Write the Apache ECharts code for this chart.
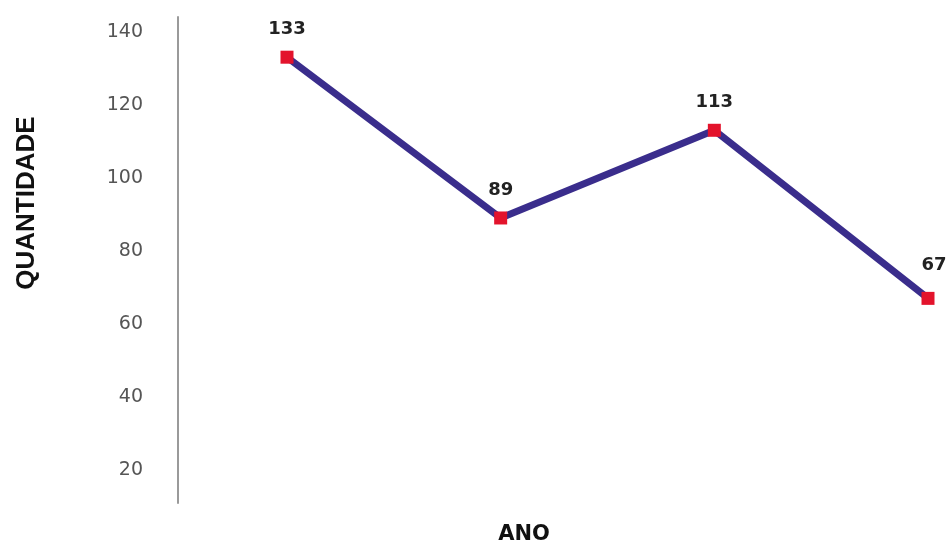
<!DOCTYPE html>
<html>
<head>
<meta charset="utf-8">
<script src="https://cdn.jsdelivr.net/npm/echarts@6/dist/echarts.min.js"></script>
<style>
    html, body { margin: 0; padding: 0; background: #fff; }
    #chart { width: 947px; height: 546px; }
</style>
</head>
<body>
<div id="chart"></div>
<script>
    // 数据
    var anos = ['1', '2', '3', '4'];
    var quantidade = [133, 89, 113, 67];
    var yTicks = [20, 40, 60, 80, 100, 120, 140];

    var myChart = echarts.init(document.getElementById('chart'));

    // 最后一个标签稍微靠右
    var seriesData = quantidade.map(function (v, i) {
        if (i === quantidade.length - 1) {
            return { value: v, label: { offset: [6, -6] } };
        }
        return v;
    });

    var option = {
        backgroundColor: '#fff',
        animation: false,
        grid: {
            left: 287,
            right: 19,
            top: 17,
            bottom: 43
        },
        xAxis: {
            type: 'category',
            data: anos,
            boundaryGap: false,
            axisLine: { show: false },
            axisTick: { show: false },
            axisLabel: { show: false },
            splitLine: { show: false }
        },
        yAxis: {
            type: 'value',
            min: 11,
            max: 144,
            offset: 109,
            axisLine: { show: true, lineStyle: { color: '#9a9a9a', width: 2 } },
            axisTick: { show: false },
            splitLine: { show: false },
            axisLabel: {
                customValues: yTicks,
                margin: 35,
                color: '#555',
                fontSize: 19,
                fontFamily: 'DejaVu Sans'
            }
        },
        graphic: [
            {
                type: 'text',
                x: 27,
                y: 203,
                rotation: Math.PI / 2,
                style: {
                    text: 'QUANTIDADE',
                    fontSize: 26,
                    fontWeight: 'bold',
                    fontFamily: 'Liberation Sans',
                    fill: '#111',
                    align: 'center',
                    verticalAlign: 'middle'
                }
            },
            {
                type: 'text',
                x: 524,
                y: 535,
                style: {
                    text: 'ANO',
                    fontSize: 21,
                    fontWeight: 'bold',
                    fontFamily: 'DejaVu Sans',
                    fill: '#111',
                    align: 'center',
                    verticalAlign: 'middle'
                }
            }
        ],
        series: [{
            type: 'line',
            data: seriesData,
            clip: false,
            symbol: 'rect',
            symbolSize: 13,
            itemStyle: { color: '#e3132c' },
            lineStyle: { color: '#3a2d8c', width: 7 },
            label: {
                show: true,
                position: 'top',
                distance: 12,
                color: '#222',
                fontSize: 18,
                fontWeight: 'bold',
                fontFamily: 'DejaVu Sans'
            },
            z: 3
        }]
    };

    myChart.setOption(option);
</script>
</body>
</html>
